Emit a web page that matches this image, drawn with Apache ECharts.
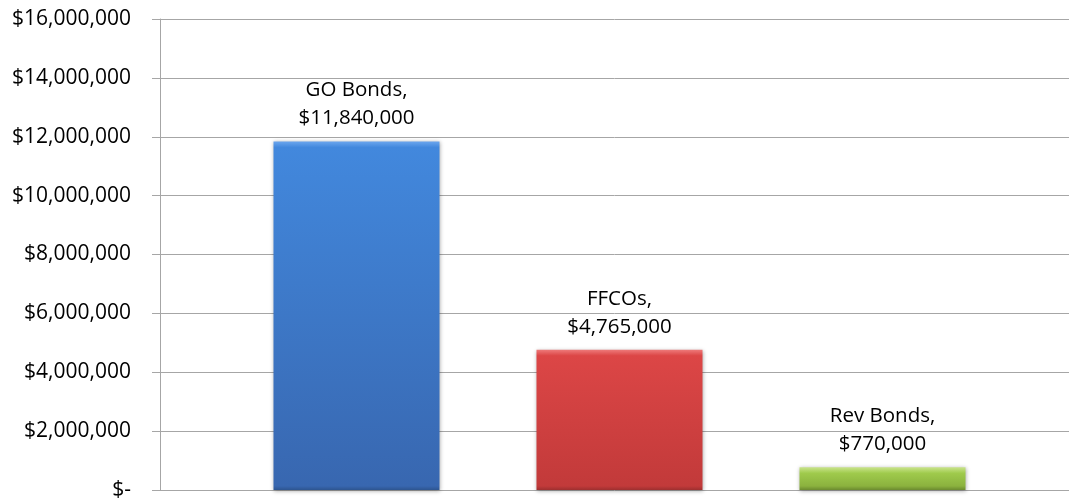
<!DOCTYPE html>
<html>
<head>
<meta charset="utf-8">
<script src="https://cdn.jsdelivr.net/npm/echarts@6/dist/echarts.min.js"></script>
<style>
  html, body { margin: 0; padding: 0; background: #fff; }
  #chart { width: 1069px; height: 502px; }
</style>
</head>
<body>
<div id="chart"></div>
<script>
// Debt issued by type
const categories = ['GO Bonds', 'FFCOs', 'Rev Bonds'];
const amounts = [11840000, 4765000, 770000];
const yMin = 0;
const yMax = 16000000;
const yStep = 2000000;

// bar palette: [bevel highlight, body top, body bottom, bevel shadow]
const palettes = [
  ['#6ba6ee', '#4288dd', '#3867b0', '#2d5590'],
  ['#ee7a7a', '#dc4646', '#c23a3a', '#9e2f2f'],
  ['#c8e38a', '#9fca4c', '#8bb23e', '#6b8a2f']
];

const FONT = '"Open Sans", sans-serif';
const GRID_TOP = 19;
const GRID_BOTTOM = 12;
const plotHeight = 502 - GRID_TOP - GRID_BOTTOM;

function money(v) {
  if (v === 0) return '$-';
  return '$' + v.toLocaleString('en-US');
}

function barFill(i, v) {
  const p = palettes[i];
  const h = Math.max(1, v / yMax * plotHeight);
  const bevel = Math.min(0.45, 6 / h);
  const low = Math.max(bevel + 0.01, 1 - 4 / h);
  return {
    type: 'linear', x: 0, y: 0, x2: 0, y2: 1,
    colorStops: [
      { offset: 0, color: p[0] },
      { offset: bevel, color: p[1] },
      { offset: low, color: p[2] },
      { offset: 1, color: p[3] }
    ]
  };
}

const chart = echarts.init(document.getElementById('chart'), null, { renderer: 'canvas' });

chart.setOption({
  animation: false,
  grid: [
    { left: 160, right: 0, top: GRID_TOP, bottom: GRID_BOTTOM },
    { left: 225, width: 789, top: GRID_TOP, bottom: GRID_BOTTOM }
  ],
  xAxis: [
    { gridIndex: 0, type: 'value', min: 0, max: 1, show: false },
    {
      gridIndex: 1, type: 'category', data: categories,
      axisLine: { show: false }, axisTick: { show: false },
      axisLabel: { show: false }, splitLine: { show: false }
    }
  ],
  yAxis: [
    {
      gridIndex: 0, type: 'value', min: yMin, max: yMax, interval: yStep,
      axisLine: { show: true, lineStyle: { color: '#a6a6a6', width: 1 } },
      axisTick: { show: true, length: 8, lineStyle: { color: '#a6a6a6' } },
      splitLine: { show: true, lineStyle: { color: '#a6a6a6', width: 1 } },
      axisLabel: {
        margin: 29,
        color: '#000',
        fontFamily: FONT,
        fontSize: 21,
        formatter: money
      }
    },
    {
      gridIndex: 1, type: 'value', min: yMin, max: yMax, interval: yStep,
      show: false
    }
  ],
  series: [{
    type: 'bar',
    xAxisIndex: 1,
    yAxisIndex: 1,
    barWidth: 166,
    data: amounts.map((v, i) => ({
      value: v,
      itemStyle: {
        color: barFill(i, v),
        shadowColor: 'rgba(0,0,0,0.35)',
        shadowBlur: 4,
        shadowOffsetY: 1
      }
    })),
    label: {
      show: true,
      position: 'top',
      distance: 9,
      color: '#000',
      fontFamily: FONT,
      fontSize: 20.5,
      lineHeight: 28,
      align: 'center',
      formatter: (p) => p.name + ',\n' + money(p.value)
    }
  }]
});
</script>
</body>
</html>
